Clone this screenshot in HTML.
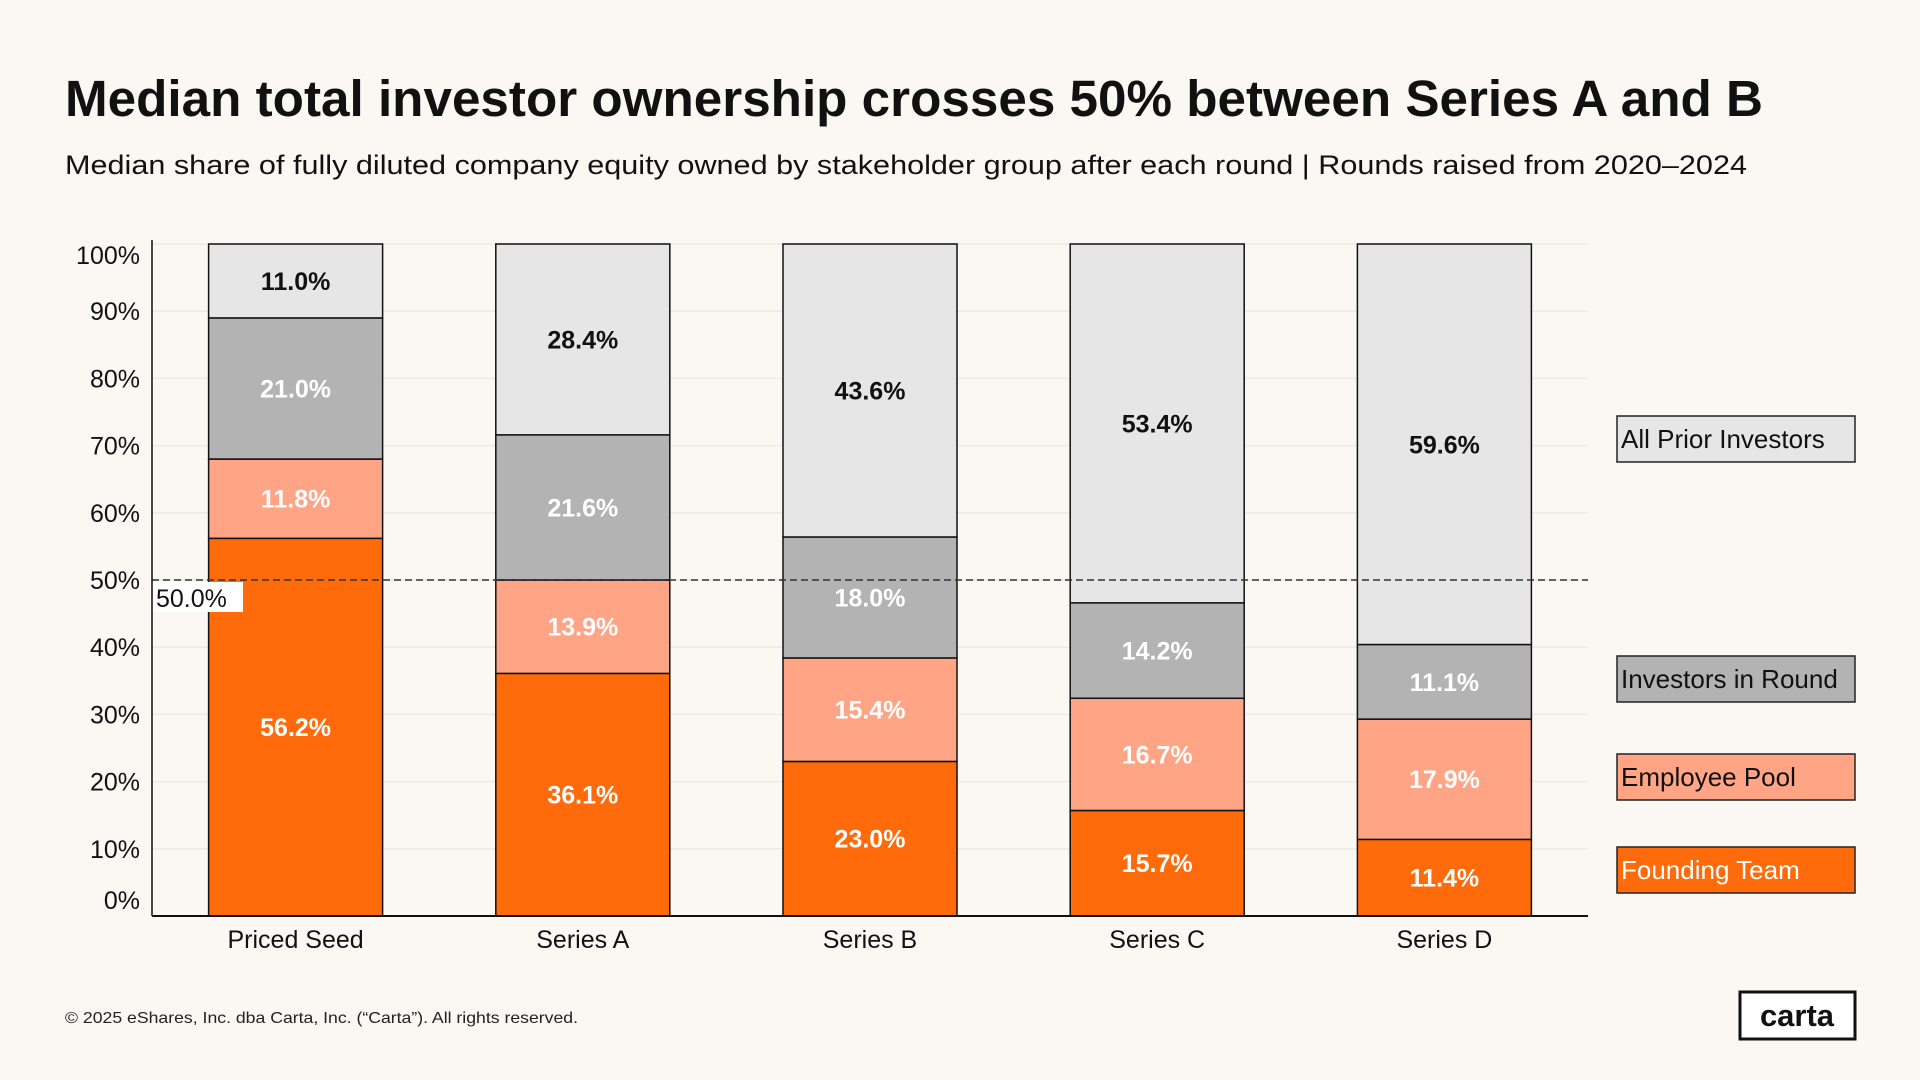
<!DOCTYPE html>
<html><head><meta charset="utf-8"><style>
html,body{margin:0;padding:0;background:#FBF8F4;}
svg{display:block;font-family:"Liberation Sans",sans-serif;}
</style></head><body>
<svg id="chart" width="1920" height="1080" viewBox="0 0 1920 1080">
<rect width="1920" height="1080" fill="#FBF8F4"/>
<text x="65" y="116" font-size="51" font-weight="bold" fill="#111" textLength="1698" lengthAdjust="spacingAndGlyphs">Median total investor ownership crosses 50% between Series A and B</text>
<text x="65" y="174" font-size="27" fill="#111" textLength="1682" lengthAdjust="spacingAndGlyphs">Median share of fully diluted company equity owned by stakeholder group after each round | Rounds raised from 2020–2024</text>
<g id="grid"></g><g id="bars"></g><g id="labels"></g><g id="axes"></g>
<text x="65" y="1023" font-size="16" fill="#222" textLength="513" lengthAdjust="spacingAndGlyphs">© 2025 eShares, Inc. dba Carta, Inc. (“Carta”). All rights reserved.</text>
<rect x="1740" y="992" width="115" height="47" fill="#fff" stroke="#111" stroke-width="3"/>
<text x="1797" y="1026" font-size="31" font-weight="bold" fill="#111" text-anchor="middle">carta</text>
</svg>
<script>
const categories = ["Priced Seed","Series A","Series B","Series C","Series D"];
const foundingTeam = [56.2,36.1,23.0,15.7,11.4];
const employeePool = [11.8,13.9,15.4,16.7,17.9];
const investorsInRound = [21.0,21.6,18.0,14.2,11.1];
const allPriorInvestors = [11.0,28.4,43.6,53.4,59.6];
const yTicks = [0,10,20,30,40,50,60,70,80,90,100];
const seriesNames = ["Founding Team","Employee Pool","Investors in Round","All Prior Investors"];
const thresholdValue = 50;

const NS="http://www.w3.org/2000/svg";
const plotLeft=152,plotRight=1588,plotTop=244,plotBottom=916;
const yScale=v=>plotBottom-(v/100)*(plotBottom-plotTop);
const band=(plotRight-plotLeft)/categories.length;
const barW=174;
const xc=i=>plotLeft+band*(i+0.5);
const colors=["#FF6B0A","#FFA585","#B3B3B3","#E6E6E6"];
const textColors=["#fff","#fff","#fff","#111"];
const series=[foundingTeam,employeePool,investorsInRound,allPriorInvestors];
function mk(tag,attrs,parent){const e=document.createElementNS(NS,tag);for(const k in attrs)e.setAttribute(k,attrs[k]);parent.appendChild(e);return e;}
const grid=document.getElementById('grid'),bars=document.getElementById('bars'),labels=document.getElementById('labels'),axes=document.getElementById('axes');
yTicks.forEach(t=>{
  const g=mk('line',{x1:plotLeft,x2:plotRight,y1:yScale(t),y2:yScale(t),stroke:'#EEEAE4','stroke-width':1.5},grid);
  
  
  let ly=yScale(t)+9; if(t===100) ly+=11; if(t===0) ly-=16;
  const tl=mk('text',{x:140,y:ly,'font-size':25,fill:'#111','text-anchor':'end'},axes);
  tl.textContent=t+'%';
  
  
});
categories.forEach((c,i)=>{
  let base=0;
  series.forEach((s,k)=>{
    const v=s[i];
    const r=mk('rect',{x:xc(i)-barW/2,y:yScale(base+v),width:barW,height:yScale(base)-yScale(base+v),fill:colors[k],stroke:'#111','stroke-width':1.5},bars);
    
    
    const t=mk('text',{x:xc(i),y:(yScale(base)+yScale(base+v))/2+9,'font-size':25,'font-weight':'bold',fill:textColors[k],'text-anchor':'middle'},labels);
    t.textContent=v.toFixed(1)+'%';
    
    
    base+=v;
  });
  const xl=mk('text',{x:xc(i),y:948,'font-size':25,fill:'#111','text-anchor':'middle'},axes);
  xl.textContent=c;
  
  
});
const th=mk('line',{x1:plotLeft,x2:plotRight,y1:yScale(thresholdValue),y2:yScale(thresholdValue),stroke:'#333','stroke-width':1.5,'stroke-dasharray':'7,4'},labels);


const tb=mk('rect',{x:153,y:yScale(thresholdValue)+2,width:90,height:30,fill:'#fff'},labels);


const tt=mk('text',{x:156,y:yScale(thresholdValue)+27,'font-size':25,fill:'#111'},labels);
tt.textContent=thresholdValue.toFixed(1)+'%';


const ya=mk('line',{x1:plotLeft,x2:plotLeft,y1:240,y2:plotBottom,stroke:'#111','stroke-width':1.5},axes);


const xa=mk('line',{x1:plotLeft,x2:plotRight,y1:plotBottom,y2:plotBottom,stroke:'#111','stroke-width':2},axes);


const legY=[870,777,679,439];
seriesNames.forEach((n,k)=>{
  const r=mk('rect',{x:1617,y:legY[k]-23,width:238,height:46,fill:colors[k],stroke:'#222','stroke-width':1.5},axes);
  
  
  const t=mk('text',{x:1621,y:legY[k]+9,'font-size':26,fill:k===0?'#fff':'#111'},axes);
  t.textContent=n;
  
  
});
</script>
</body></html>
